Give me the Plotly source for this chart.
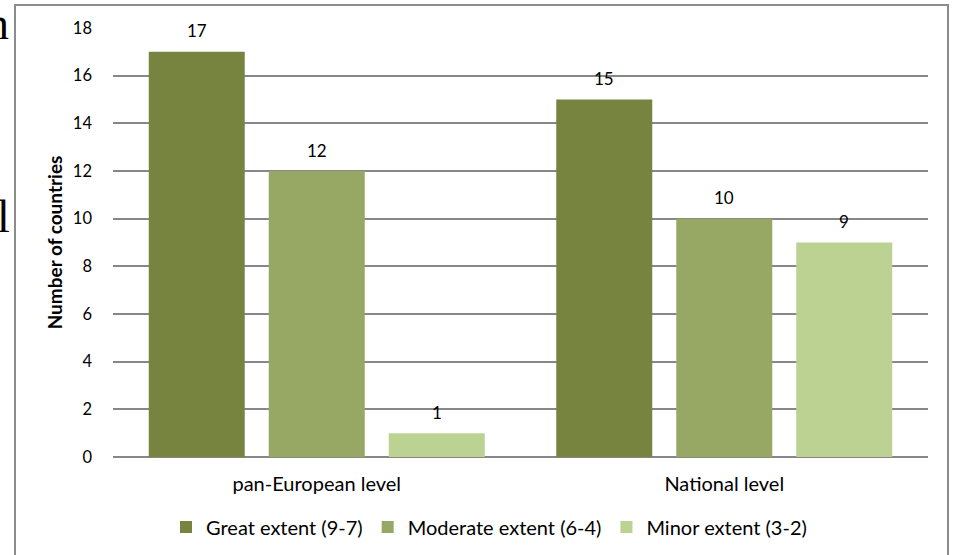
import plotly.graph_objects as go

categories = ["pan-European level", "National level"]
series_names = ["Great extent (9-7)", "Moderate extent (6-4)", "Minor extent (3-2)"]
great = [17, 15]
moderate = [12, 10]
minor = [1, 9]
y_ticks = [0, 2, 4, 6, 8, 10, 12, 14, 16, 18]
colors = ["#77843F", "#97A865", "#BCD292"]

FONT = "Lato, 'Open Sans', sans-serif"

W, H = 953, 555
L, R, T, B = 113, 25, 28, 98
pw, ph = W - L - R, H - T - B


def px_x(p):
    return (p - L) / pw


def px_y(p):
    return (H - B - p) / ph


fig = go.Figure()
series = [great, moderate, minor]
for name, vals, col in zip(series_names, series, colors):
    fig.add_trace(go.Bar(
        x=categories, y=vals, name=name,
        marker=dict(color=col, line=dict(width=0)),
        cliponaxis=False,
    ))

# data labels (value labels above each bar)
annotations = []
for i, vals in enumerate(series):
    for cat, v in zip(categories, vals):
        annotations.append(dict(
            x=cat, y=v, xref="x", yref="y", text=str(v), showarrow=False,
            xshift=(i - 1) * 120, yshift=21, yanchor="middle", xanchor="center",
            font=dict(family=FONT, size=17, color="#000")))

# stray glyphs of the surrounding document, cut at the left edge
annotations += [
    dict(text="n", xref="paper", yref="paper", x=px_x(11), y=px_y(23),
         xanchor="right", yanchor="middle", showarrow=False,
         font=dict(family="Liberation Serif", size=46, color="#000")),
    dict(text="l", xref="paper", yref="paper", x=px_x(12), y=px_y(216),
         xanchor="right", yanchor="middle", showarrow=False,
         font=dict(family="Liberation Serif", size=46, color="#000")),
]

fig.update_layout(
    width=W, height=H,
    margin=dict(l=L, r=R, t=T, b=B, pad=0, autoexpand=False),
    paper_bgcolor="white", plot_bgcolor="white",
    barmode="group", bargap=0.1166, bargroupgap=0.2,
    font=dict(family=FONT, size=20, color="#000"),
    showlegend=True,
    legend=dict(orientation="h", x=px_x(489), xanchor="center", y=px_y(527),
                yanchor="middle",
                font=dict(family=FONT, size=20, color="#000"),
                traceorder="normal"),
    xaxis=dict(showgrid=False, showline=False, ticks="", zeroline=False,
               automargin=False,
               tickfont=dict(family=FONT, size=20, color="#000"),
               ticklabelstandoff=13),
    yaxis=dict(range=[0, 18], tickvals=y_ticks, showgrid=True,
               automargin=False,
               gridcolor="#878787", gridwidth=1.5, zeroline=True,
               zerolinecolor="#878787", zerolinewidth=1.5, showline=False,
               ticks="", ticklabelstandoff=20,
               tickfont=dict(family=FONT, size=16.5, color="#000"),
               title=dict(text="<b>Number of countries</b>", standoff=5,
                          font=dict(family=FONT, size=19, color="#000"))),
    shapes=[dict(type="rect", xref="paper", yref="paper",
                 x0=px_x(15), x1=px_x(948), y0=px_y(575), y1=px_y(5),
                 line=dict(color="#8C8C8C", width=2), fillcolor="rgba(0,0,0,0)",
                 layer="above")],
    annotations=annotations,
)

fig.write_html("out.html", config={"displayModeBar": False},
               post_script="document.body.style.margin='0px';")
